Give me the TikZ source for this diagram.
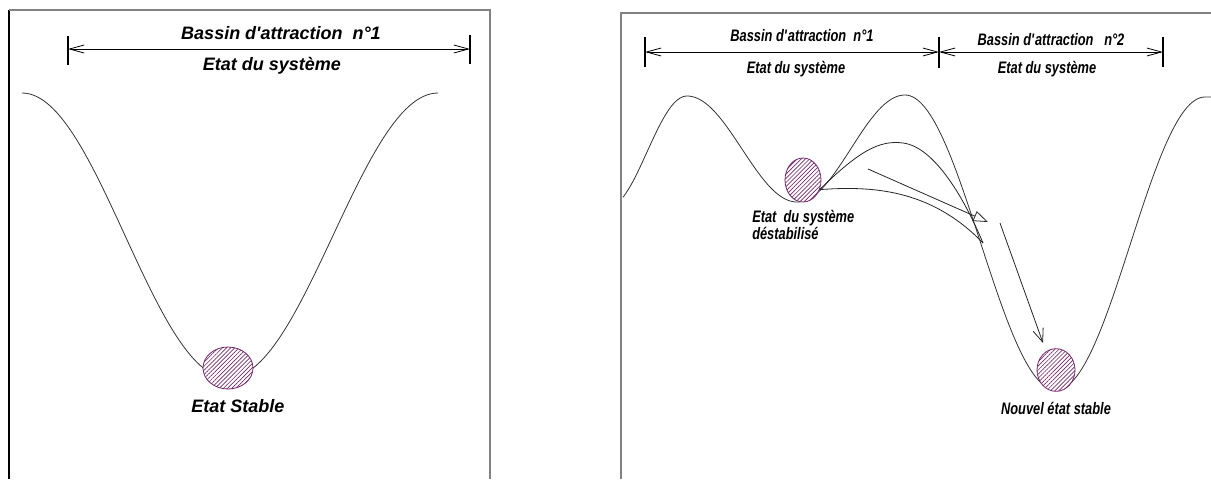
\documentclass[tikz,border=0pt]{standalone}
\usepackage{fontspec}
\setmainfont{Liberation Sans}
\newfontfamily\narrowfont[FakeStretch=0.77]{Liberation Sans}
\usetikzlibrary{arrows.meta,patterns.meta,shapes.geometric}
\definecolor{ballc}{RGB}{115,40,105}
\definecolor{framec}{RGB}{130,130,130}
\tikzset{
  curve/.style={line width=0.6pt, draw=black!80},
  frameline/.style={line width=1.5pt, draw=framec},
  dimline/.style={line width=0.6pt, {Straight Barb[length=11pt,width=6pt]}-{Straight Barb[length=11pt,width=6pt]}},
  tickline/.style={line width=0.8pt},
  ball/.style={ellipse, draw=ballc, line width=0.6pt, inner sep=0pt, preaction={fill=white},
    pattern={Lines[angle=45,distance=2.2pt,line width=0.5pt]}, pattern color=ballc},
  lbl/.style={font=\bfseries\itshape\fontsize{13.5}{15}\selectfont, inner sep=0pt},
  nlbl/.style={font=\narrowfont\bfseries\itshape\fontsize{12.5}{13}\selectfont, inner sep=0pt},
  traj/.style={line width=0.6pt, draw=black!85},
}
\begin{document}
\begin{tikzpicture}[x=0.75pt,y=-0.75pt]
\useasboundingbox (0,0) rectangle (1211,479);
% ---------- left panel ----------
\draw[line width=1.2pt] (9,10) -- (9,479);
\draw[frameline] (9,10) -- (490,10) -- (490,479);
\coordinate (LA) at (68,49);
\coordinate (LB) at (470,49);
\draw[tickline] (68,36) -- (68,65);
\draw[line width=1.5pt] (470,35) -- (470,64);
\draw[dimline] (LA) -- (LB);
\node[lbl] (lt1) at (281,33) {Bassin d\textquotesingle attraction\ \ n°1};
\node[lbl] (lt2) at (272,66) {Etat du système};
\draw[curve] plot[domain=22:228,samples=60] (\x,{93+285*(1-cos((\x-22)/206*180))/2})
  -- plot[domain=228:438,samples=60] (\x,{378-285*(1-cos((\x-228)/210*180))/2});
\node[ball, minimum width=37.5pt, minimum height=31.5pt] (b1) at (228,368) {};
\node[lbl] (lt3) at (238,406) {Etat Stable};
% ---------- right panel ----------
\draw[frameline] (621,479) -- (621,13) -- (1211,13);
\coordinate (RA) at (645,52);
\coordinate (RB) at (939,52);
\coordinate (RC) at (1163,52);
\draw[tickline] (645,37) -- (645,67);
\draw[line width=1.2pt] (939,37) -- (939,68);
\draw[tickline] (1163,37) -- (1163,67);
\draw[dimline] (RA) -- (RB);
\draw[dimline] (RB) -- (RC);
\node[nlbl] (rt1) at (802,36) {Bassin d\textquotesingle attraction\ \ n°1};
\node[nlbl] (rt2) at (796,69) {Etat du système};
\node[nlbl] (rt3) at (1051,40) {Bassin d\textquotesingle attraction\ \ \ n°2};
\node[nlbl] (rt4) at (1047,69) {Etat du système};
\draw[curve] plot[domain=623:687,samples=30] (\x,{96+112*(1-cos((687-\x)/80*180))/2})
  -- plot[domain=687:797,samples=50] (\x,{96+106*(1-cos((\x-687)/110*180))/2})
  -- plot[domain=797:905,samples=50] (\x,{202-107*(1-cos((\x-797)/108*180))/2})
  -- plot[domain=905:1056,samples=60] (\x,{95+295*(1-cos((\x-905)/151*180))/2})
  -- plot[domain=1056:1205,samples=60] (\x,{390-293*(1-cos((\x-1056)/149*180))/2})
  -- (1211,97);
\node[ball, minimum width=27pt, minimum height=33pt] (b2) at (803,180) {};
\node[ball, minimum width=28.5pt, minimum height=32pt] (b3) at (1056,370) {};
\coordinate (tend) at (983,243);
\draw[traj] (b2.-30) .. controls (860,150) and (880,140) .. (903,143)
  .. controls (935,147) and (965,200) .. (tend);
\draw[traj] (b2.-30) .. controls (870,186) and (930,188) .. (tend);
\coordinate (a1s) at (868,169);
\coordinate (a1e) at (988,222);
\draw[traj, -{Triangle[open,length=11pt,width=8pt]}] (a1s) -- (a1e);
\coordinate (a2s) at (1000,223);
\coordinate (a2e) at (1043,343);
\draw[traj, -{Straight Barb[length=10pt,width=8pt]}] (a2s) -- (a2e);
\node[nlbl, align=left, anchor=west] (rt5) at (752,225) {Etat\ \ du système\\déstabilisé};
\node[nlbl] (rt6) at (1056,408) {Nouvel état stable};
\end{tikzpicture}
\end{document}
